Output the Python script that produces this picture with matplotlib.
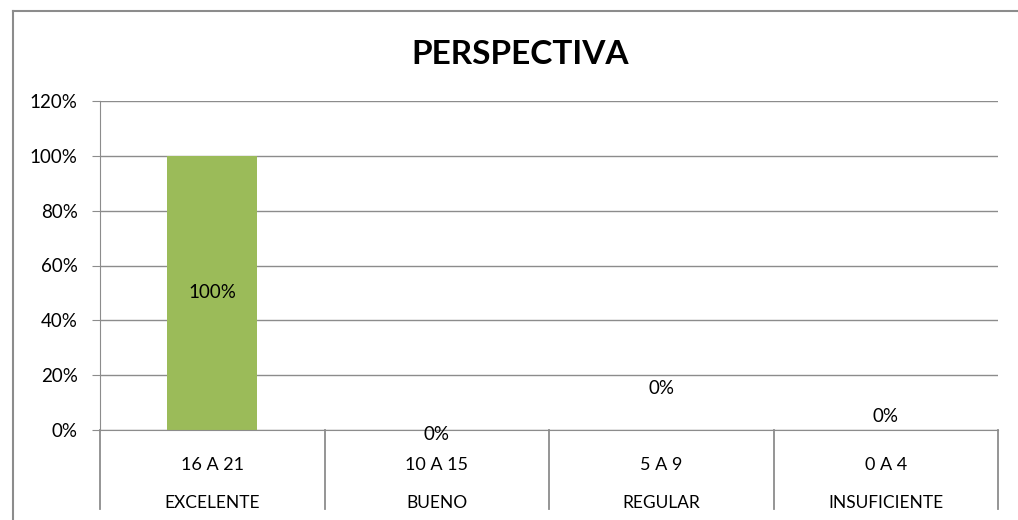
import matplotlib.pyplot as plt
from matplotlib.lines import Line2D

rangos = ["16 A 21", "10 A 15", "5 A 9", "0 A 4"]
niveles = ["EXCELENTE", "BUENO", "REGULAR", "INSUFICIENTE"]
porcentajes = [1.00, 0.00, 0.00, 0.00]

# posiciones (en unidades del eje y) de las etiquetas de datos, como en el original
pos_etiquetas = [None, -0.015, 0.153, 0.051]

plt.rcParams['font.family'] = ['Lato', 'DejaVu Sans']

W, H = 1018, 520
gris = "#8c8c8c"
fig = plt.figure(figsize=(W / 100, H / 100), dpi=100)
# marco del gráfico (solo borde superior e izquierdo visibles)
fig.add_artist(Line2D([12.5 / W, 1], [1 - 11 / H, 1 - 11 / H], color=gris, linewidth=1.5))
fig.add_artist(Line2D([12.5 / W, 12.5 / W], [0, 1 - 11 / H], color=gris, linewidth=1.5))

ax = fig.add_axes([100 / W, 1 - 430 / H, 898 / W, 329 / H])
x = list(range(len(rangos)))
ax.bar(x, porcentajes, width=0.4, color="#9BBB59", zorder=3)

ax.set_xlim(-0.5, len(rangos) - 0.5)
ax.set_ylim(0, 1.2)
yt = [i * 0.2 for i in range(7)]
ax.set_yticks(yt)
ax.set_yticklabels([f"{round(v * 100)}%" for v in yt], fontsize=13.5)
ax.yaxis.grid(True, color=gris, linewidth=1)
ax.set_axisbelow(True)
ax.tick_params(axis="y", length=6, color=gris, pad=10)
ax.set_xticks([])

for s in ["top", "right"]:
    ax.spines[s].set_visible(False)
ax.spines["left"].set_color(gris)
ax.spines["bottom"].set_color(gris)
ax.spines["bottom"].set_zorder(4)

# separadores de categorías debajo del eje
tr = ax.get_xaxis_transform()
for i in range(len(rangos) + 1):
    ax.plot([i - 0.5, i - 0.5], [0, -0.24], transform=tr, color=gris,
            linewidth=1.3, clip_on=False)

for i, (r, n) in enumerate(zip(rangos, niveles)):
    ax.text(i, -0.107, r, transform=tr, ha="center", va="center", fontsize=13)
    ax.text(i, -0.222, n, transform=tr, ha="center", va="center", fontsize=12.5)

for i, v in enumerate(porcentajes):
    yl = v / 2 if pos_etiquetas[i] is None else pos_etiquetas[i]
    ax.text(i, yl, f"{round(v * 100)}%", ha="center", va="center", fontsize=13.5, zorder=5)

fig.text(520 / W, 1 - 54 / H, "PERSPECTIVA", ha="center", va="center",
         fontsize=24, fontweight="bold")

fig.savefig("out.png", dpi=100)
